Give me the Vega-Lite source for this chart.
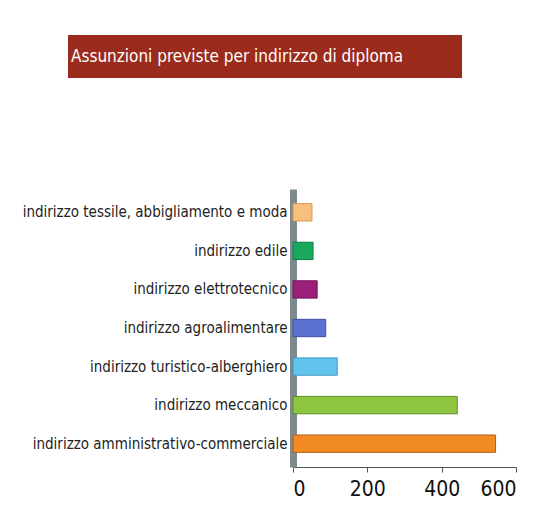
{
  "$schema": "https://vega.github.io/schema/vega-lite/v6.json",
  "background": "white",
  "padding": {"top": 35, "left": 22, "right": 5, "bottom": 5},
  "spacing": 111,
  "config": {"font": "DejaVu Sans Condensed"},
  "vconcat": [
    {
      "width": 169,
      "height": 43,
      "view": {"stroke": null},
      "data": {"values": [{"t": "Assunzioni previste per indirizzo di diploma"}]},
      "layer": [
        {
          "mark": {"type": "rect", "color": "#9b2c1d"},
          "encoding": {
            "x": {"datum": 0, "type": "quantitative", "scale": {"domain": [0, 1], "range": [-225, 169]}, "axis": null},
            "x2": {"datum": 1}
          }
        },
        {
          "mark": {"type": "text", "color": "white", "font": "DejaVu Sans Condensed", "fontSize": 17, "align": "left", "dx": 3},
          "encoding": {
            "x": {"datum": 0, "type": "quantitative"},
            "text": {"field": "t"}
          }
        }
      ]
    },
    {
      "width": 223,
      "height": 278,
      "view": {"stroke": null},
      "data": {"values": [
        {"indirizzo": "indirizzo tessile, abbigliamento e moda", "assunzioni": 51},
        {"indirizzo": "indirizzo edile", "assunzioni": 54},
        {"indirizzo": "indirizzo elettrotecnico", "assunzioni": 65},
        {"indirizzo": "indirizzo agroalimentare", "assunzioni": 88},
        {"indirizzo": "indirizzo turistico-alberghiero", "assunzioni": 119},
        {"indirizzo": "indirizzo meccanico", "assunzioni": 442},
        {"indirizzo": "indirizzo amministrativo-commerciale", "assunzioni": 545}
      ]},
      "mark": {"type": "bar", "strokeWidth": 1},
      "encoding": {
        "y": {
          "field": "indirizzo", "type": "nominal", "sort": null,
          "scale": {"paddingInner": 0.55, "paddingOuter": 0.38},
          "axis": {"title": null, "labelFont": "DejaVu Sans Condensed", "labelFontSize": 15, "labelColor": "#222", "labelPadding": 6, "ticks": false, "domainColor": "#7d8a8f", "domainWidth": 7, "labelLimit": 400}
        },
        "x": {
          "field": "assunzioni", "type": "quantitative",
          "scale": {"domain": [0, 600]},
          "axis": {"title": null, "values": [0, 200, 400, 600], "grid": false, "labelFont": "DejaVu Sans Condensed", "labelFontSize": 21, "labelColor": "#111", "domainColor": "#555", "tickColor": "#555", "tickSize": 5, "labelPadding": 6}
        },
        "color": {
          "field": "indirizzo", "type": "nominal", "sort": null, "legend": null,
          "scale": {"range": ["#f6c07e", "#19a85b", "#9a2079", "#5b70d0", "#62c3ec", "#8ec63f", "#f28a24"]}
        },
        "stroke": {
          "field": "indirizzo", "type": "nominal", "sort": null, "legend": null,
          "scale": {"range": ["#d89a50", "#11804a", "#74155c", "#3f52a8", "#3e9ac4", "#5e8f25", "#b55e12"]}
        }
      }
    }
  ]
}
